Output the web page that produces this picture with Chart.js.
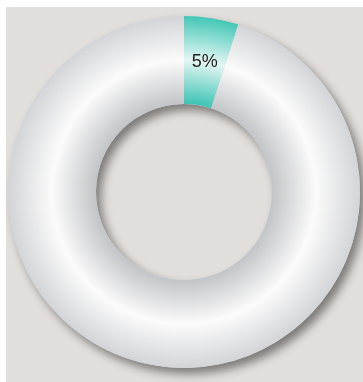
<!DOCTYPE html>
<html>
<head>
<meta charset="utf-8">
<script src="https://cdn.jsdelivr.net/npm/chart.js@4"></script>
<style>
    body { margin: 0; background: #ffffff; }
    .wrap { position: relative; width: 363px; height: 382px; }
    .panel { position: absolute; left: 6px; top: 7px; width: 357px; height: 375px; background: #e2dedb; }
    #donut { position: absolute; left: 0; top: 0; }
</style>
</head>
<body>
<div class="wrap">
    <div class="panel"></div>
    <canvas id="donut" width="363" height="382"></canvas>
</div>
<script>
const labels = ['Valor', 'Restante'];
const values = [5, 95];
const valueLabels = ['5%', ''];

// gradiente radial do anel (borda interna -> meio -> borda externa)
function ringGradient(chart, stops) {
    const area = chart.chartArea;
    if (!area) return stops[1];
    const cx = (area.left + area.right) / 2;
    const cy = (area.top + area.bottom) / 2;
    const outer = Math.min(area.width, area.height) / 2;
    const inner = outer * 0.5;
    const g = chart.ctx.createRadialGradient(cx, cy, inner, cx, cy, outer);
    g.addColorStop(0, stops[0]);
    g.addColorStop(0.5, stops[1]);
    g.addColorStop(1, stops[2]);
    return g;
}

const palettes = [
    ['#3dc3b3', '#e4f6f3', '#42c7b6'],
    ['#c3c4c7', '#fbfbfb', '#d3d4d7']
];

const shadowPlugin = {
    id: 'ringShadow',
    beforeDatasetsDraw(chart) {
        const arc = chart.getDatasetMeta(0).data[0];
        if (!arc) return;
        const ctx = chart.ctx;
        ctx.save();
        ctx.shadowColor = 'rgba(0,0,0,0.45)';
        ctx.shadowBlur = 10;
        ctx.shadowOffsetX = 5;
        ctx.shadowOffsetY = 6;
        ctx.beginPath();
        ctx.arc(arc.x, arc.y, arc.outerRadius, 0, Math.PI * 2);
        ctx.arc(arc.x, arc.y, arc.innerRadius, Math.PI * 2, 0, true);
        ctx.fillStyle = '#d8d9db';
        ctx.fill();
        ctx.restore();
    }
};

const labelPlugin = {
    id: 'sliceLabels',
    afterDatasetsDraw(chart) {
        const ctx = chart.ctx;
        ctx.save();
        ctx.font = '18px "Liberation Sans", Arial, sans-serif';
        ctx.fillStyle = '#222222';
        ctx.textAlign = 'center';
        ctx.textBaseline = 'middle';
        chart.getDatasetMeta(0).data.forEach((arc, i) => {
            if (!valueLabels[i]) return;
            const p = arc.tooltipPosition();
            ctx.fillText(valueLabels[i], p.x, p.y);
        });
        ctx.restore();
    }
};

new Chart(document.getElementById('donut'), {
    type: 'doughnut',
    data: {
        labels: labels,
        datasets: [{
            data: values,
            backgroundColor: ctx => ringGradient(ctx.chart, palettes[ctx.dataIndex]),
            borderWidth: 0,
            hoverOffset: 0,
            offset: 0
        }]
    },
    options: {
        responsive: false,
        animation: false,
        events: [],
        cutout: '50%',
        layout: { padding: { left: 8, right: 3, top: 16, bottom: 14 } },
        plugins: {
            legend: { display: false },
            tooltip: { enabled: false }
        }
    },
    plugins: [shadowPlugin, labelPlugin]
});
</script>
</body>
</html>
